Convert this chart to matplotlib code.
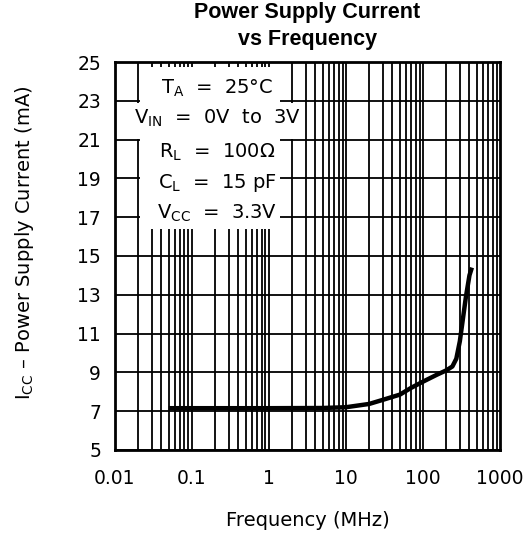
import numpy as np
import matplotlib.pyplot as plt
from matplotlib.patches import Rectangle

# curve
freq_mhz = [0.05, 0.1, 0.5, 1, 5, 10, 20, 30, 50, 70, 100, 150, 200, 240, 270, 300, 330, 360, 400, 430]
icc_ma = [7.15, 7.15, 7.15, 7.15, 7.16, 7.2, 7.37, 7.58, 7.85, 8.2, 8.52, 8.87, 9.1, 9.3, 9.7, 10.6, 11.8, 12.9, 14.0, 14.4]

x_ticks = [0.01, 0.1, 1, 10, 100, 1000]
x_labels = ["0.01", "0.1", "1", "10", "100", "1000"]
y_ticks = [5, 7, 9, 11, 13, 15, 17, 19, 21, 23, 25]

cond_lines = [
    r"$\mathregular{T_A}$  =  25°C",
    r"$\mathregular{V_{IN}}$  =  0V  to  3V",
    r"$\mathregular{R_L}$  =  100$\Omega$",
    r"$\mathregular{C_L}$  =  15 pF",
    r"$\mathregular{V_{CC}}$  =  3.3V",
]

fig = plt.figure(figsize=(5.27, 5.44), dpi=100)
ax = fig.add_axes([0.218, 0.173, 0.731, 0.713])

ax.set_xscale("log")
ax.set_xlim(0.01, 1000)
ax.set_ylim(5, 25)

# grid: every decade step and every 2 mA
grid_kw = dict(color="black", lw=1.3, zorder=1)
for dec in [0.01, 0.1, 1, 10, 100]:
    for k in range(1, 10):
        ax.axvline(dec * k, **grid_kw)
for y in y_ticks:
    ax.axhline(y, **grid_kw)

# white areas behind the conditions text
ax.add_patch(Rectangle((0.0215, 16.4), 1.39 - 0.0215, 24.75 - 16.4,
                       facecolor="white", edgecolor="none", zorder=2))
ax.add_patch(Rectangle((0.01, 21.05), 2.45 - 0.01, 22.9 - 21.05,
                       facecolor="white", edgecolor="none", zorder=2))

ax.plot(freq_mhz, icc_ma, color="black", lw=3.2, solid_capstyle="butt", zorder=4)

ys = [0.933, 0.856, 0.768, 0.688, 0.611]
for txt, yy in zip(cond_lines, ys):
    ax.text(0.265, yy, txt, transform=ax.transAxes, ha="center", va="center",
            fontsize=14, zorder=5)

ax.set_xticks(x_ticks)
ax.set_xticklabels(x_labels)
ax.minorticks_off()
ax.set_yticks(y_ticks)
ax.tick_params(length=0, labelsize=13.5)
ax.tick_params(axis="x", pad=14)
ax.tick_params(axis="y", pad=10)
for s in ax.spines.values():
    s.set_linewidth(2)
    s.set_zorder(6)

ax.set_xlabel("Frequency (MHz)", fontsize=14, labelpad=16)
ax.set_ylabel(r"$\mathregular{I_{CC}}$ – Power Supply Current (mA)", fontsize=14)
ax.yaxis.set_label_coords(-0.205, 0.535)
ax.set_title("Power Supply Current\nvs Frequency", fontsize=15.5, fontweight="bold",
             family="Liberation Sans", pad=12, linespacing=1.4)

fig.savefig("out.png", dpi=100)
